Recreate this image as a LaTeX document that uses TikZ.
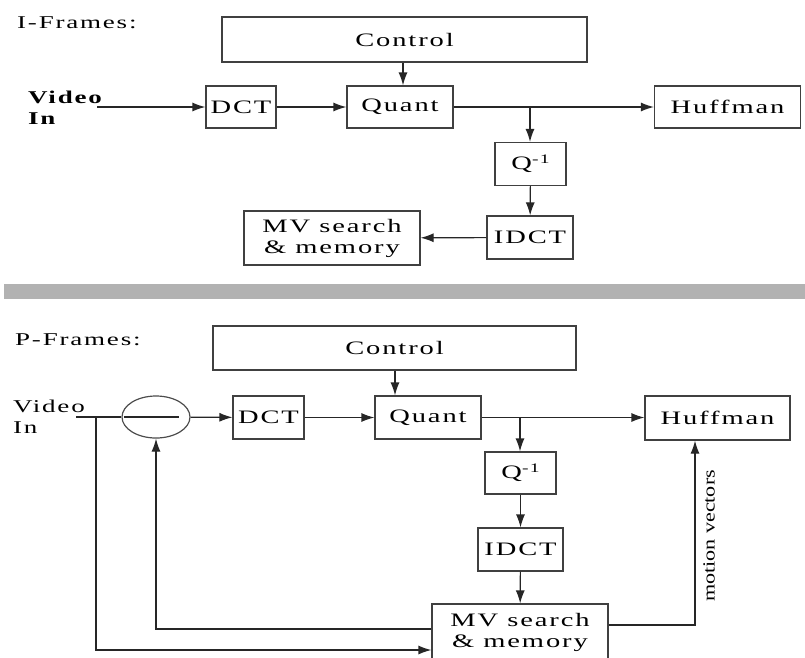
\documentclass[tikz,border=0pt]{standalone}
\usepackage{fontspec}
\setmainfont{Liberation Serif}[FakeStretch=1.5, LetterSpace=10]
\newfontfamily\rotfont{Liberation Serif}[FakeStretch=1.3]
\usetikzlibrary{arrows.meta, shapes.geometric}
\tikzset{
  blk/.style={draw=black!75, line width=1.2pt, inner sep=0pt, align=center,
    font=\fontsize{19}{21}\selectfont},
  arr/.style={draw=black!85, line width=1.2pt, -{Latex[length=13pt,width=9pt]}},
  ln/.style={draw=black!85, line width=1.2pt},
  lbl/.style={inner sep=0pt, anchor=west, align=left, font=\fontsize{18}{21}\selectfont},
}
\begin{document}
\begin{tikzpicture}[x=1pt, y=-1pt]
\useasboundingbox (0,0) rectangle (805,657);
\clip (0,0) rectangle (805,657);

% ---------- I-Frames ----------
\node[lbl] (tI) at (17,23) {I-Frames:};
\node[lbl, font=\fontsize{18}{21}\selectfont\bfseries] (vinT) at (28,107.5) {Video\\In};
\node[blk, minimum width=365pt, minimum height=45pt] (ctrl1) at (404.5,39.5) {Control};
\node[blk, minimum width=70pt, minimum height=42pt] (dct1) at (241,107) {DCT};
\node[blk, minimum width=106pt, minimum height=42pt] (quant1) at (400,107) {Quant};
\node[blk, minimum width=146pt, minimum height=42pt] (huff1) at (727.5,107) {Huffman};
\node[blk, minimum width=71pt, minimum height=43pt] (q1) at (530.5,164) {Q\raisebox{0.7ex}{\fontsize{13}{13}\selectfont -1}};
\node[blk, minimum width=86pt, minimum height=43pt] (idct1) at (530,237.5) {IDCT};
\node[blk, minimum width=176pt, minimum height=54pt] (mv1) at (332,238) {MV search\\\& memory};

\coordinate (vin1) at (97,107);
\coordinate (br1) at (530,107);
\coordinate (c1) at (403,62);
\draw[arr] (vin1) -- (dct1.west);
\draw[arr] (dct1) -- (quant1);
\draw[arr] (quant1) -- (huff1);
\draw[arr] (br1) -- (br1 |- q1.north);
\draw[arr] (q1) -- (idct1);
\draw[arr] (idct1) -- (mv1);
\draw[arr] (c1 |- ctrl1.south) -- (c1 |- quant1.north);

% ---------- separator ----------
\fill[gray!60] (4,284) rectangle (805,299);

% ---------- P-Frames ----------
\node[lbl] (tP) at (15,340) {P-Frames:};
\node[lbl] (vinB) at (13,417) {Video\\In};
\node[blk, minimum width=363pt, minimum height=44pt] (ctrl2) at (394.5,348) {Control};
\node[draw=black!70, line width=1.2pt, ellipse, minimum width=68pt, minimum height=42pt, inner sep=0pt] (circ) at (156,417) {};
\node[blk, minimum width=71pt, minimum height=43pt] (dct2) at (268.5,417.5) {DCT};
\node[blk, minimum width=106pt, minimum height=43pt] (quant2) at (428,417.5) {Quant};
\node[blk, minimum width=145pt, minimum height=44pt] (huff2) at (717.5,418) {Huffman};
\node[blk, minimum width=71pt, minimum height=42pt] (q2) at (520.5,473) {Q\raisebox{0.7ex}{\fontsize{13}{13}\selectfont -1}};
\node[blk, minimum width=85pt, minimum height=43pt] (idct2) at (520.5,549.5) {IDCT};
\node[blk, minimum width=176pt, minimum height=56pt] (mv2) at (520,632) {MV search\\\& memory};
\node[rotate=90, inner sep=0pt, font=\rotfont\fontsize{17}{19}\selectfont] (mvlab) at (709,536) {motion vectors};

\coordinate (vin2) at (76,417);
\coordinate (br2) at (96,417);
\coordinate (fbC) at (96,650);
\coordinate (fbB) at (156,629);
\coordinate (qbr) at (520,418);
\coordinate (c2) at (395,370);
\coordinate (mvC) at (695,625);

\draw[ln] (vin2) -- (circ.west);
\draw[ln] ([xshift=3pt]circ.west) -- ([xshift=-12pt]circ.east);
\draw[arr] (circ) -- (dct2);
\draw[arr] (dct2) -- (quant2);
\draw[arr] (quant2.east) -- (quant2.east -| huff2.west);
\draw[arr] (qbr) -- (qbr |- q2.north);
\draw[arr] (q2) -- (idct2);
\draw[arr] (idct2) -- (mv2);
\draw[arr] (c2 |- ctrl2.south) -- (c2 |- quant2.north);
\draw[arr] (mv2.west |- fbB) -| (circ.south);
\draw[arr] (br2) -- (fbC) -- (mv2.west |- fbC);
\draw[arr] (mv2.east |- mvC) -- (mvC) -- (mvC |- huff2.south);
\end{tikzpicture}
\end{document}
